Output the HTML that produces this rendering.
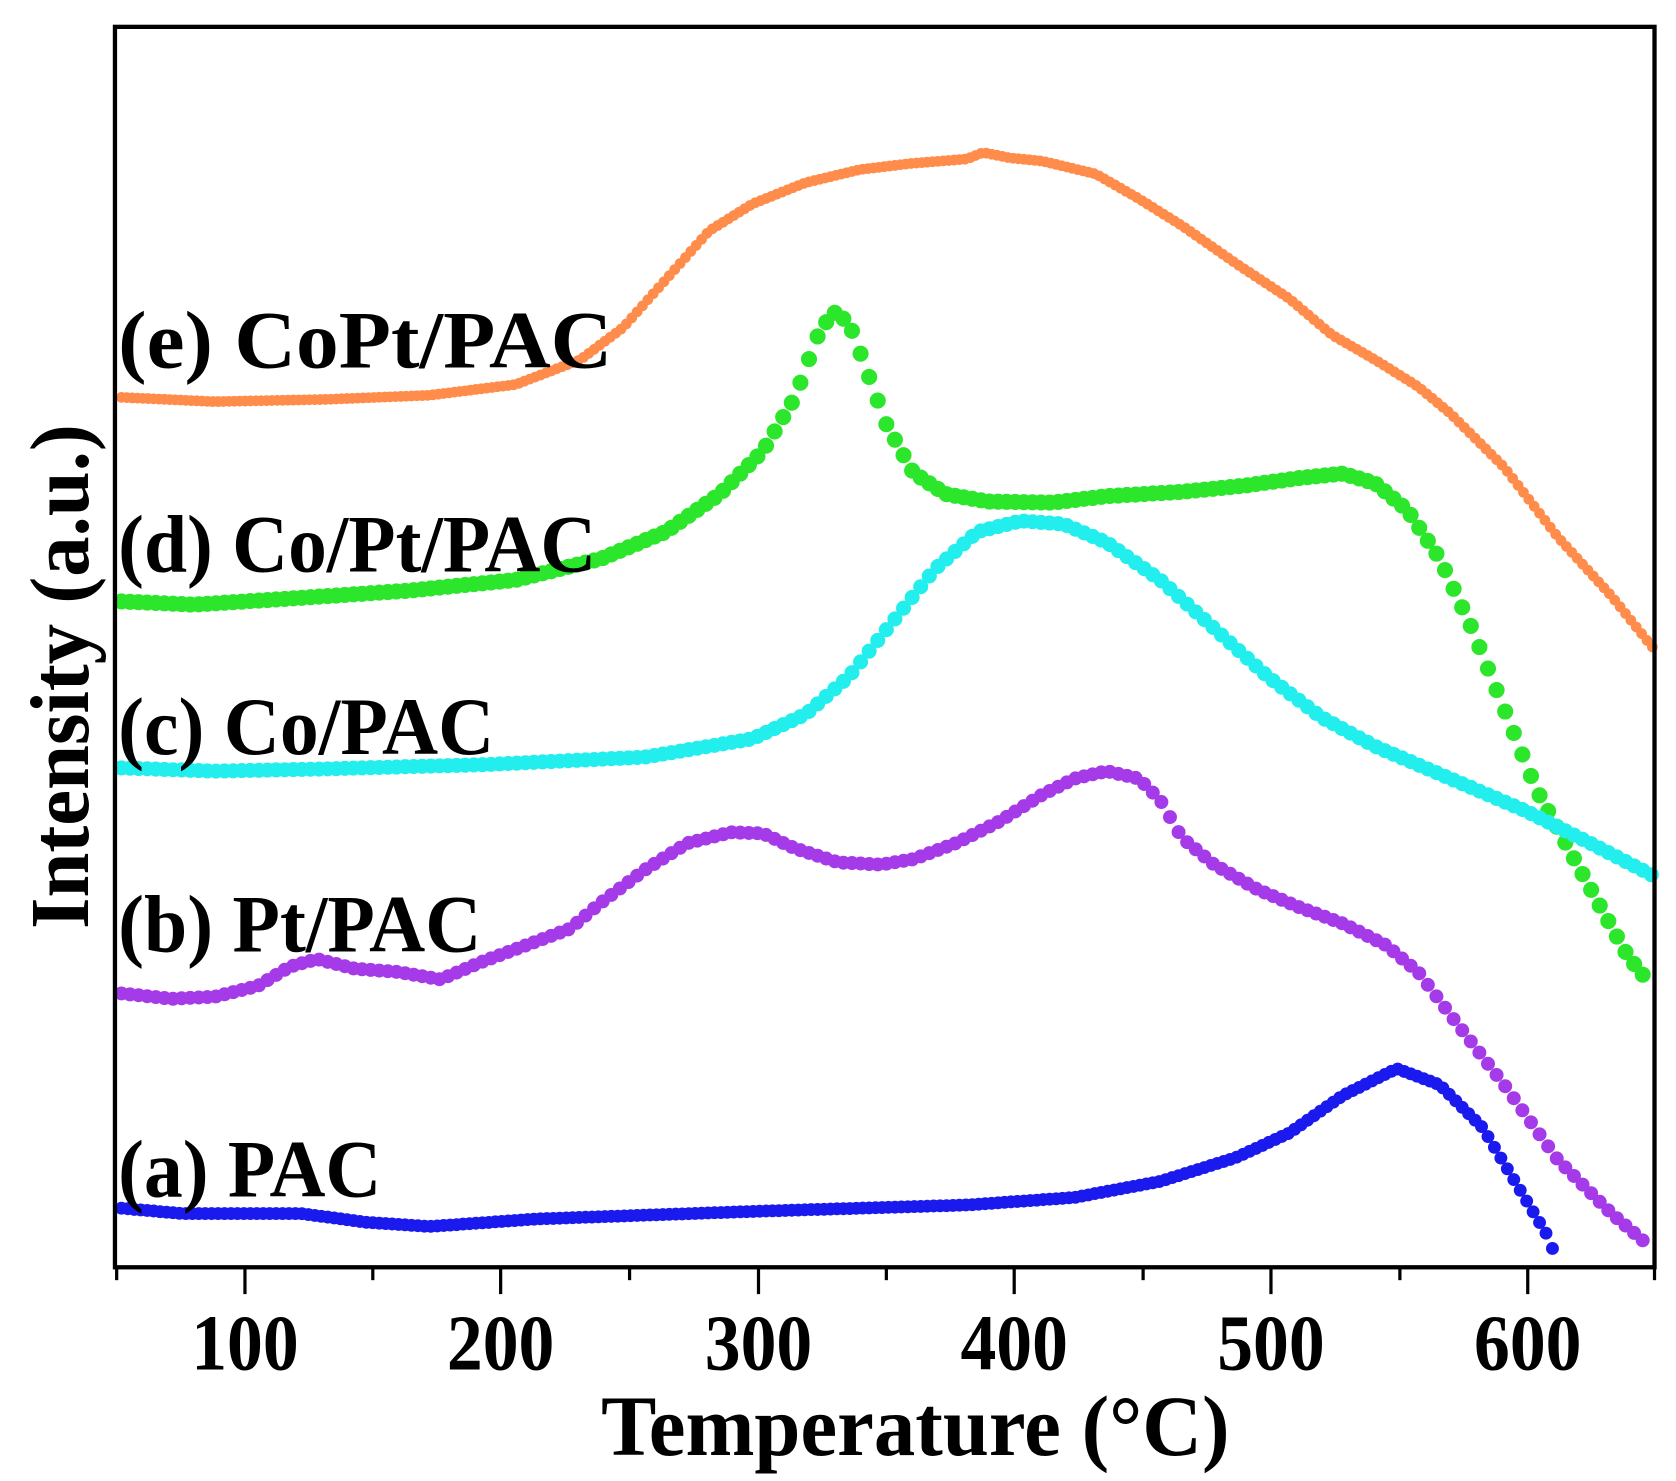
<!DOCTYPE html>
<html><head><meta charset="utf-8"><style>
html,body{margin:0;padding:0;background:#fff;}
svg{display:block;}
text{font-family:"Liberation Serif",serif;font-weight:bold;fill:#000;}
</style></head><body>
<svg id="s" width="1676" height="1481" viewBox="0 0 1560 1379" preserveAspectRatio="none" xmlns="http://www.w3.org/2000/svg">
<g id="curves"></g>
<rect x="107" y="25" width="1433" height="1155" fill="none" stroke="#000" stroke-width="4"/>
<g stroke="#000" stroke-width="3">
<line x1="108.6" y1="1180" x2="108.6" y2="1192"/>
<line x1="228" y1="1180" x2="228" y2="1205"/>
<line x1="347" y1="1180" x2="347" y2="1192"/>
<line x1="466" y1="1180" x2="466" y2="1205"/>
<line x1="586" y1="1180" x2="586" y2="1192"/>
<line x1="706" y1="1180" x2="706" y2="1205"/>
<line x1="825" y1="1180" x2="825" y2="1192"/>
<line x1="944" y1="1180" x2="944" y2="1205"/>
<line x1="1064" y1="1180" x2="1064" y2="1192"/>
<line x1="1183" y1="1180" x2="1183" y2="1205"/>
<line x1="1303" y1="1180" x2="1303" y2="1192"/>
<line x1="1422" y1="1180" x2="1422" y2="1205"/>
<line x1="1540" y1="1180" x2="1540" y2="1192"/>
</g>
<g font-size="74" text-anchor="middle">
<text x="228" y="1275" textLength="100" lengthAdjust="spacingAndGlyphs">100</text><text x="466" y="1275" textLength="100" lengthAdjust="spacingAndGlyphs">200</text><text x="706" y="1275" textLength="100" lengthAdjust="spacingAndGlyphs">300</text>
<text x="944" y="1275" textLength="100" lengthAdjust="spacingAndGlyphs">400</text><text x="1183" y="1275" textLength="100" lengthAdjust="spacingAndGlyphs">500</text><text x="1422" y="1275" textLength="100" lengthAdjust="spacingAndGlyphs">600</text>
</g>
<text x="852" y="1355" font-size="80" text-anchor="middle" textLength="585" lengthAdjust="spacingAndGlyphs">Temperature (°C)</text>
<text transform="translate(82,630) rotate(-90)" font-size="78" text-anchor="middle" textLength="470" lengthAdjust="spacingAndGlyphs">Intensity (a.u.)</text>
<g font-size="76">
<text x="110" y="342" textLength="460" lengthAdjust="spacingAndGlyphs">(e) CoPt/PAC</text>
<text x="110" y="532" textLength="445" lengthAdjust="spacingAndGlyphs">(d) Co/Pt/PAC</text>
<text x="110" y="702" textLength="350" lengthAdjust="spacingAndGlyphs">(c) Co/PAC</text>
<text x="110" y="886" textLength="338" lengthAdjust="spacingAndGlyphs">(b) Pt/PAC</text>
<text x="110" y="1114" textLength="245" lengthAdjust="spacingAndGlyphs">(a) PAC</text>
</g>
</svg>
<script>
var S=[
{c:"#ff8c4a",r:4.5,st:5,p:[[113,370],[200,374],[300,372],[400,368],[480,358],[540,335],[580,305],[620,260],[660,215],[700,190],[750,170],[800,158],[850,152],[900,148],[915,142],[940,147],[970,150],[1020,162],[1060,185],[1100,210],[1150,245],[1200,278],[1240,312],[1280,335],[1320,360],[1350,385],[1400,435],[1450,500],[1500,555],[1540,605]]},
{c:"#2ce62c",r:7,st:8,p:[[113,560],[180,563],[260,558],[380,550],[480,540],[560,520],[620,495],[670,460],[710,420],[740,370],[760,315],[775,290],[790,300],[805,340],[825,395],[850,440],[880,460],[920,467],[980,468],[1030,462],[1100,458],[1160,452],[1210,445],[1250,441],[1280,450],[1310,475],[1340,520],[1370,585],[1400,660],[1430,735],[1460,790],[1490,845],[1515,890],[1535,915]]},
{c:"#22eeee",r:6.5,st:8,p:[[113,715],[200,718],[300,716],[450,712],[600,705],[700,688],[750,665],[790,630],[830,580],[870,530],[910,495],[950,485],[990,488],[1030,505],[1080,540],[1130,585],[1180,630],[1230,668],[1280,695],[1350,725],[1420,755],[1480,785],[1538,815]]},
{c:"#a53ae8",r:6,st:8,p:[[113,925],[160,930],[200,928],[240,918],[270,900],[295,893],[330,902],[370,905],[410,912],[450,895],[490,880],[530,865],[560,840],[600,810],[640,785],[680,775],[710,776],[740,790],[780,803],[820,805],[850,800],[890,785],[930,765],[970,740],[1000,725],[1030,718],[1060,725],[1080,745],[1100,780],[1130,805],[1170,828],[1210,845],[1250,860],[1290,880],[1320,905],[1350,945],[1400,1010],[1450,1080],[1500,1130],[1535,1160]]},
{c:"#1a1aee",r:5.5,st:6,p:[[113,1125],[170,1130],[280,1130],[340,1138],[400,1142],[500,1135],[700,1128],[900,1122],[1000,1115],[1080,1100],[1150,1078],[1200,1055],[1250,1020],[1300,995],[1340,1010],[1380,1050],[1410,1100],[1440,1150],[1450,1175]]}
];
var g=document.getElementById("curves"),h="";
S.forEach(function(s){
 var p=s.p,step=s.st;
 for(var x=p[0][0];x<=p[p.length-1][0];x+=step){
  for(var i=0;i<p.length-1&&p[i+1][0]<x;i++);
  var a=p[i],b=p[Math.min(i+1,p.length-1)],t=b[0]==a[0]?0:(x-a[0])/(b[0]-a[0]);
  var y=a[1]+t*(b[1]-a[1]);
  h+='<circle cx="'+x.toFixed(1)+'" cy="'+y.toFixed(1)+'" r="'+s.r+'" fill="'+s.c+'" stroke="'+s.c+'" stroke-width="1"/>';
 }
});
g.innerHTML=h;
</script>
</body></html>
